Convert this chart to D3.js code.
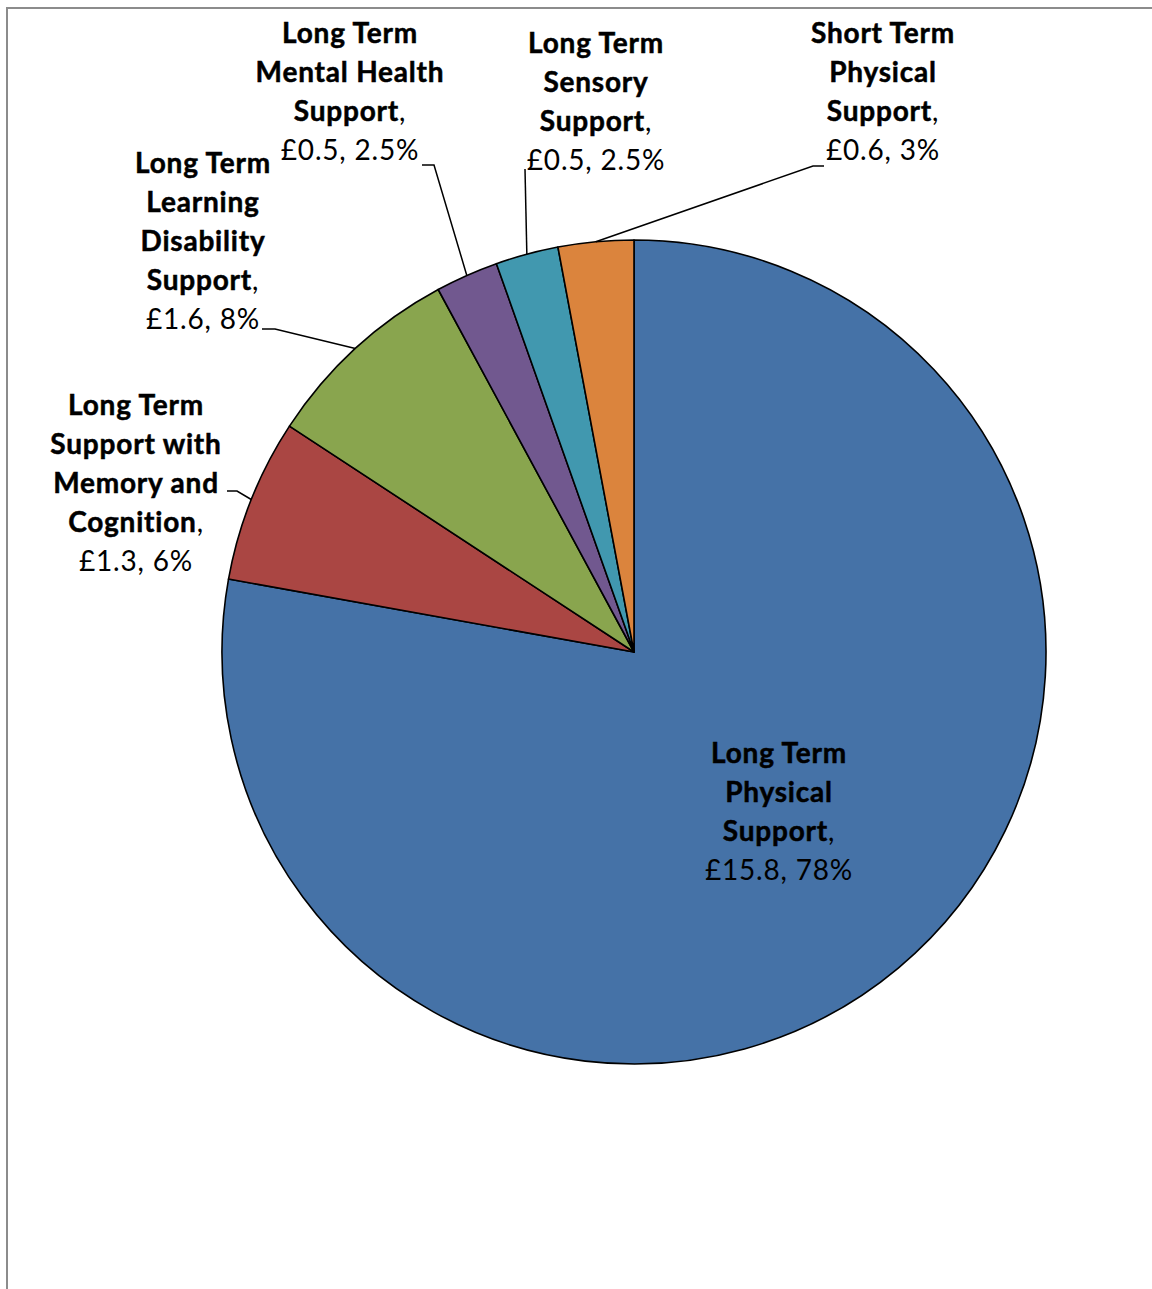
<!DOCTYPE html>
<html>
<head>
<meta charset="utf-8">
<script src="https://cdn.jsdelivr.net/npm/d3@7"></script>
<style>
  body { margin: 0; background: #fff; }
  text { font-family: Lato, "Open Sans", sans-serif; fill: #000; letter-spacing: 0.8px; }
  .bold { font-weight: 700; stroke: #000; stroke-width: 0.5px; }
</style>
</head>
<body>
<svg id="chart" width="1152" height="1289"></svg>
<script>
// Spending by support type (£m)
const categories = [
  "Long Term Physical Support",
  "Long Term Support with Memory and Cognition",
  "Long Term Learning Disability Support",
  "Long Term Mental Health Support",
  "Long Term Sensory Support",
  "Short Term Physical Support"
];
const values = [15.8, 1.3, 1.6, 0.5, 0.5, 0.6];
const percentLabels = ["78%", "6%", "8%", "2.5%", "2.5%", "3%"];
const colors = ["#4572A7", "#AA4643", "#89A54E", "#71588F", "#4198AF", "#DB843D"];

// How each category name wraps in its label
const nameLines = [
  ["Long Term", "Physical", "Support"],
  ["Long Term", "Support with", "Memory and", "Cognition"],
  ["Long Term", "Learning", "Disability", "Support"],
  ["Long Term", "Mental Health", "Support"],
  ["Long Term", "Sensory", "Support"],
  ["Short Term", "Physical", "Support"]
];

// Label placement, as offsets from the pie centre
// (x: label centre, y: first baseline; leader: elbow and end of the leader line)
const labelLayout = [
  { x: 145,  y: 111,  leader: null },
  { x: -498, y: -237, leader: [[-397, -161], [-407, -161]] },
  { x: -431, y: -479, leader: [[-359, -323], [-372, -323]] },
  { x: -284, y: -609, leader: [[-200, -487], [-212, -487]] },
  { x: -38,  y: -599, leader: [[-109, -483], [-109, -483]] },
  { x: 249,  y: -609, leader: [[179, -486], [190, -486]] }
];

const W = 1152, H = 1289;
const cx = 634, cy = 652, radius = 412;
const fontSize = 28, lineH = 39;

const svg = d3.select("#chart");

// chart frame
svg.append("rect")
  .attr("x", 7).attr("y", 8)
  .attr("width", W + 20).attr("height", H + 20)
  .attr("fill", "#fff")
  .attr("stroke", "#8c8c8c").attr("stroke-width", 2);

const data = categories.map((c, i) => ({ name: c, value: values[i], i }));

const pie = d3.pie().value(d => d.value).sort(null);
const arcs = pie(data);
const arc = d3.arc().innerRadius(0).outerRadius(radius);

const g = svg.append("g").attr("transform", `translate(${cx},${cy})`);

g.selectAll("path.slice")
  .data(arcs)
  .join("path")
  .attr("class", "slice")
  .attr("d", arc)
  .attr("fill", d => colors[d.data.i])
  .attr("stroke", "#000")
  .attr("stroke-width", 1.6)
  .attr("stroke-linejoin", "round");

// leader lines from the slice edge at its mid angle
arcs.forEach(a => {
  const lay = labelLayout[a.data.i];
  if (!lay.leader) return;
  const mid = (a.startAngle + a.endAngle) / 2;
  const p0 = [radius * Math.sin(mid), -radius * Math.cos(mid)];
  const pts = [p0, lay.leader[0], lay.leader[1]];
  g.append("path")
    .attr("d", d3.line()(pts))
    .attr("fill", "none")
    .attr("stroke", "#000")
    .attr("stroke-width", 1.5);
});

// data labels
arcs.forEach(a => {
  const i = a.data.i;
  const lay = labelLayout[i];
  const lines = nameLines[i];
  const lg = g.append("g").attr("class", "label");
  lines.forEach((ln, k) => {
    const t = lg.append("text")
      .attr("x", lay.x)
      .attr("y", lay.y + k * lineH)
      .attr("text-anchor", "middle")
      .style("font-size", fontSize + "px");
    t.append("tspan").attr("class", "bold").text(ln);
    if (k === lines.length - 1) t.append("tspan").style("font-weight", 400).text(",");
  });
  lg.append("text")
    .attr("x", lay.x)
    .attr("y", lay.y + lines.length * lineH)
    .attr("text-anchor", "middle")
    .style("font-size", fontSize + "px")
    .style("font-weight", 400)
    .text(`£${values[i]}, ${percentLabels[i]}`);
});
</script>
</body>
</html>
